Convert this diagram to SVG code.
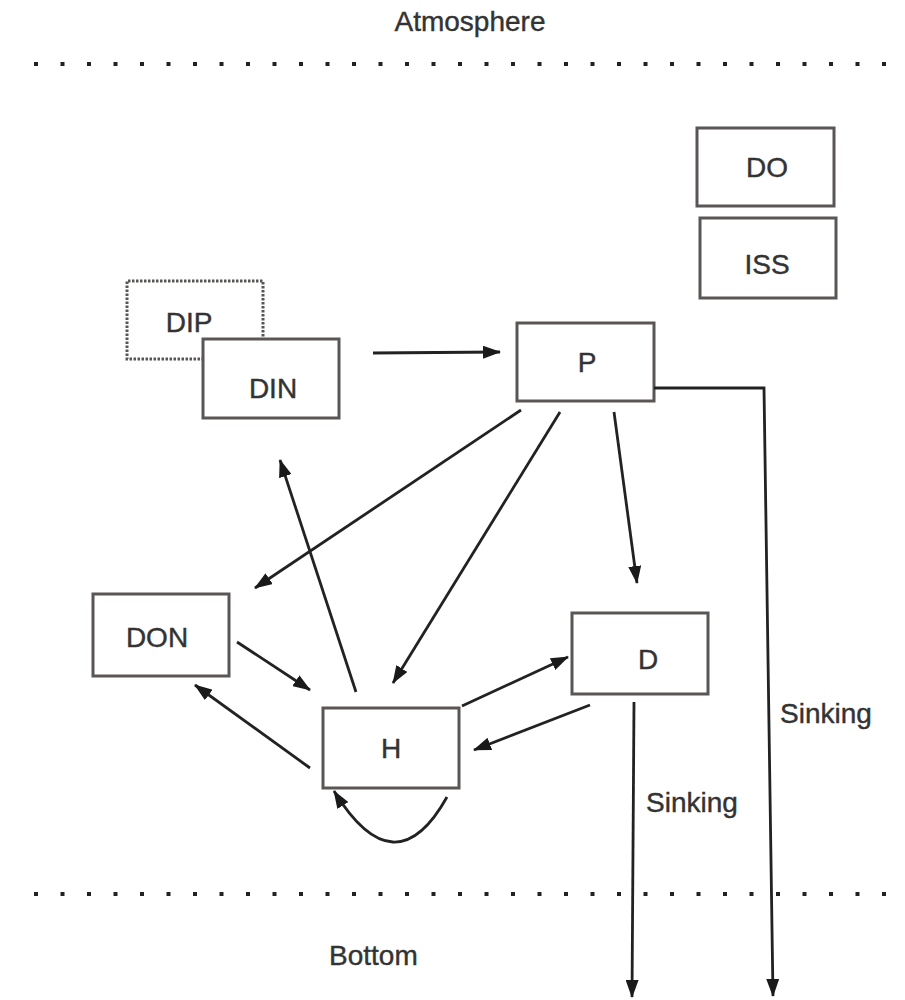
<svg xmlns="http://www.w3.org/2000/svg" width="905" height="1000" viewBox="0 0 905 1000">
<style>
.box{fill:#fff;stroke:#5a5655;stroke-width:3}
.dash{fill:none;stroke:#5a5655;stroke-width:3;stroke-dasharray:2.5 1.5}
.lbl{font-family:"Liberation Sans",Arial,sans-serif;font-size:28px;fill:#333;stroke:#333;stroke-width:0.4;text-anchor:middle}
.free{font-family:"Liberation Sans",Arial,sans-serif;font-size:28px;fill:#333;stroke:#333;stroke-width:0.4}
.c{fill:none;stroke:#222;stroke-width:2.8}
.dots{fill:none;stroke:#222;stroke-width:4;stroke-dasharray:4 22.5}
</style>
<defs>
<marker id="ah" viewBox="0 0 18 13" refX="17" refY="6.5" markerWidth="18" markerHeight="13" markerUnits="userSpaceOnUse" orient="auto">
<path d="M0,0 L18,6.5 L0,13 Z" fill="#1a1a1a"/>
</marker>
</defs>
<rect width="905" height="1000" fill="#fff"/>
<g id="boundaries">
<line class="dots" x1="34" y1="64" x2="890" y2="64"/>
<line class="dots" x1="34" y1="894" x2="890" y2="894"/>
<text class="lbl" x="470" y="31">Atmosphere</text>
<text class="free" x="329" y="965">Bottom</text>
</g>
<g id="DIP">
<path class="dash" d="M212,359 L127,359 L127,281 L263,281 L263,343"/>
<text class="lbl" x="189" y="332">DIP</text>
</g>
<g id="DIN">
<rect class="box" x="203" y="339" width="136" height="79"/>
<text class="lbl" x="273" y="398">DIN</text>
</g>
<g id="P">
<rect class="box" x="517" y="323" width="137" height="78"/>
<text class="lbl" x="587" y="372">P</text>
</g>
<g id="DO">
<rect class="box" x="697" y="128" width="137" height="78"/>
<text class="lbl" x="767" y="177">DO</text>
</g>
<g id="ISS">
<rect class="box" x="700" y="218" width="136" height="80"/>
<text class="lbl" x="767" y="274">ISS</text>
</g>
<g id="DON">
<rect class="box" x="93" y="594" width="136" height="82"/>
<text class="lbl" x="157" y="647">DON</text>
</g>
<g id="D">
<rect class="box" x="572" y="613" width="136" height="81"/>
<text class="lbl" x="648" y="669">D</text>
</g>
<g id="H">
<rect class="box" x="323" y="708" width="136" height="80"/>
<text class="lbl" x="391" y="758">H</text>
</g>
<g id="connectors">
<line class="c" x1="373" y1="353" x2="500" y2="352" marker-end="url(#ah)"/>
<line class="c" x1="521" y1="410" x2="255" y2="588" marker-end="url(#ah)"/>
<line class="c" x1="560" y1="412" x2="393" y2="683" marker-end="url(#ah)"/>
<line class="c" x1="614" y1="412" x2="637" y2="583" marker-end="url(#ah)"/>
<line class="c" x1="356" y1="692" x2="280" y2="460" marker-end="url(#ah)"/>
<line class="c" x1="237" y1="642" x2="310" y2="690" marker-end="url(#ah)"/>
<line class="c" x1="462" y1="706" x2="568" y2="657" marker-end="url(#ah)"/>
<line class="c" x1="590" y1="705" x2="474" y2="750" marker-end="url(#ah)"/>
<line class="c" x1="310" y1="768" x2="195" y2="685" marker-end="url(#ah)"/>
<path class="c" d="M447,797 Q395,890 334,791" marker-end="url(#ah)"/>
<path class="c" d="M654,388 L764,388 L773,996" marker-end="url(#ah)"/>
<line class="c" x1="634" y1="702" x2="632" y2="997" marker-end="url(#ah)"/>
<text class="free" x="780" y="723">Sinking</text>
<text class="free" x="646" y="812">Sinking</text>
</g>
</svg>
